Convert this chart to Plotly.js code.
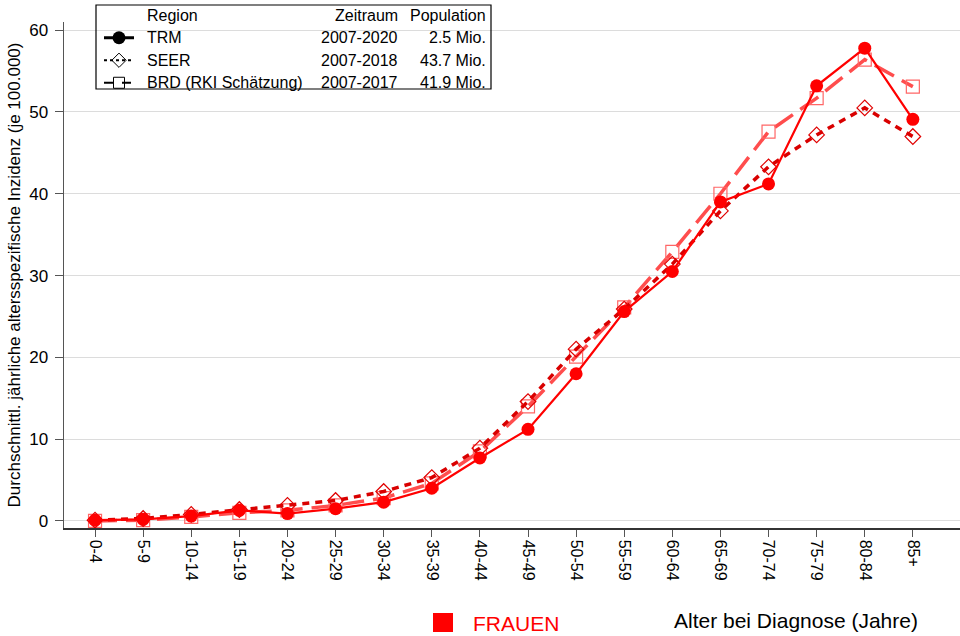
<!DOCTYPE html>
<html>
<head>
<meta charset="utf-8">
<script src="https://cdn.plot.ly/plotly-3.0.1.min.js"></script>
<style>html,body{margin:0;padding:0;background:#fff;}#chart{width:960px;height:636px;}</style>
</head>
<body>
<div id="chart"></div>
<script>
const ageGroups = ["0-4","5-9","10-14","15-19","20-24","25-29","30-34","35-39","40-44","45-49","50-54","55-59","60-64","65-69","70-74","75-79","80-84","85+"];
const trm  = [0.1, 0.2, 0.6, 1.3, 0.9, 1.5, 2.3, 4.0, 7.7, 11.2, 18.0, 25.6, 30.5, 39.0, 41.2, 53.2, 57.8, 49.1];
const seer = [0.1, 0.3, 0.8, 1.4, 1.9, 2.5, 3.6, 5.3, 8.9, 14.6, 21.0, 25.9, 31.4, 37.9, 43.3, 47.2, 50.5, 47.0];
const brd  = [0.0, 0.1, 0.5, 1.0, 1.3, 1.9, 2.8, 4.6, 8.5, 14.0, 20.1, 26.1, 32.9, 40.0, 47.6, 51.7, 56.4, 53.1];
const legendRegions = ["TRM", "SEER", "BRD (RKI Schätzung)"];
const legendPeriods = ["2007-2020", "2007-2018", "2007-2017"];
const legendPopulation = ["2.5 Mio.", "43.7 Mio.", "41.9 Mio."];

const L = 64, R = 960, T = 22, B = 528;
const px = v => (v - L) / (R - L);
const py = v => (B - v) / (B - T);

const traces = [
  {x: ageGroups, y: brd, type: "scatter", mode: "lines+markers", showlegend: false,
   line: {color: "#ff4d4d", width: 3.5, dash: "22px,9px"},
   marker: {symbol: "square-open", size: 13, color: "#ff6666", line: {width: 1.2}}},
  {x: ageGroups, y: seer, type: "scatter", mode: "lines+markers", showlegend: false,
   line: {color: "#d90000", width: 3.5, dash: "7px,6px"},
   marker: {symbol: "diamond-open", size: 12, color: "#e00000", line: {width: 1.2}}},
  {x: ageGroups, y: trm, type: "scatter", mode: "lines+markers", showlegend: false,
   line: {color: "#ff0000", width: 2.2},
   marker: {symbol: "circle", size: 13, color: "#ff0000"}},
  // legend-only entries (black samples); names drawn as annotations
  {x: [null], y: [null], type: "scatter", mode: "lines+markers", name: "\u00a0",
   line: {color: "#000", width: 2.8}, marker: {symbol: "circle", size: 13, color: "#000"}},
  {x: [null], y: [null], type: "scatter", mode: "lines+markers", name: "\u00a0",
   line: {color: "#000", width: 2.2, dash: "dot"}, marker: {symbol: "diamond-open", size: 11, color: "#000", line: {width: 1}}},
  {x: [null], y: [null], type: "scatter", mode: "lines+markers", name: "\u00a0",
   line: {color: "#000", width: 2.2, dash: "dash"}, marker: {symbol: "square-open", size: 11, color: "#000", line: {width: 1}}}
];

const font = "Liberation Sans, Arial, sans-serif";
const annotations = [];
const rowsY = [37.5, 60, 82];
const f16 = {family: font, size: 16, color: "#000"};
annotations.push({xref:"paper", yref:"paper", x: px(145), y: py(15), xanchor:"left", yanchor:"middle", text:"Region", showarrow:false, font:f16});
annotations.push({xref:"paper", yref:"paper", x: px(400), y: py(15), xanchor:"right", yanchor:"middle", text:"Zeitraum", showarrow:false, font:f16});
annotations.push({xref:"paper", yref:"paper", x: px(488), y: py(15), xanchor:"right", yanchor:"middle", text:"Population", showarrow:false, font:f16});
for (let i = 0; i < 3; i++) {
  annotations.push({xref:"paper", yref:"paper", x: px(145), y: py(rowsY[i]), xanchor:"left", yanchor:"middle", text: legendRegions[i], showarrow:false, font:f16});
  annotations.push({xref:"paper", yref:"paper", x: px(400), y: py(rowsY[i]), xanchor:"right", yanchor:"middle", text: legendPeriods[i], showarrow:false, font:f16});
  annotations.push({xref:"paper", yref:"paper", x: px(488), y: py(rowsY[i]), xanchor:"right", yanchor:"middle", text: legendPopulation[i], showarrow:false, font:f16});
}
annotations.push({xref:"paper", yref:"paper", x: px(471), y: py(623), xanchor:"left", yanchor:"middle", text:"FRAUEN", showarrow:false, font:{family:font, size:21, color:"#ff0000"}});
annotations.push({xref:"paper", yref:"paper", x: px(796), y: py(620), xanchor:"center", yanchor:"middle", text:"Alter bei Diagnose (Jahre)", showarrow:false, font:{family:font, size:21, color:"#000"}});

const layout = {
  width: 960, height: 636,
  margin: {l: L, r: 960 - R, t: T, b: 636 - B},
  paper_bgcolor: "#fff", plot_bgcolor: "#fff",
  font: {family: font, color: "#000"},
  xaxis: {
    type: "category", range: [-0.645, 17.98], tickangle: 90,
    showline: true, linecolor: "#333", linewidth: 1.5,
    ticks: "outside", ticklen: 7, tickcolor: "#555", tickwidth: 1,
    showgrid: false, zeroline: false,
    tickfont: {family: font, size: 16, color: "#000"}
  },
  yaxis: {
    range: [-0.86, 61], tickvals: [0,10,20,30,40,50,60],
    showline: true, linecolor: "#555", linewidth: 1.5,
    ticks: "outside", ticklen: 8, tickcolor: "#555",
    showgrid: true, gridcolor: "#dcdcdc", gridwidth: 1, zeroline: false,
    tickfont: {family: font, size: 17, color: "#000"},
    ticklabelstandoff: 3,
    title: {text: "Durchschnittl. jährliche altersspezifische Inzidenz (je 100.000)", font: {family: font, size: 17, color: "#000"}, standoff: 4}
  },
  showlegend: true,
  legend: {
    x: px(99), y: py(21.5), xanchor: "left", yanchor: "top",
    bgcolor: "rgba(0,0,0,0)", borderwidth: 0,
    font: {family: font, size: 15, color: "#000"},
    traceorder: "normal", tracegroupgap: 0, itemwidth: 30
  },
  shapes: [
    {type: "rect", xref: "paper", yref: "paper", x0: px(96), x1: px(491), y0: py(5), y1: py(89), line: {color: "#000", width: 1.2}, fillcolor: "rgba(0,0,0,0)", layer: "above"},
    {type: "rect", xref: "paper", yref: "paper", x0: px(433), x1: px(453), y0: py(613), y1: py(632), line: {width: 0}, fillcolor: "#ff0000"}
  ],
  annotations: annotations
};

Plotly.newPlot("chart", traces, layout, {displayModeBar: false, staticPlot: true});
</script>
</body>
</html>
